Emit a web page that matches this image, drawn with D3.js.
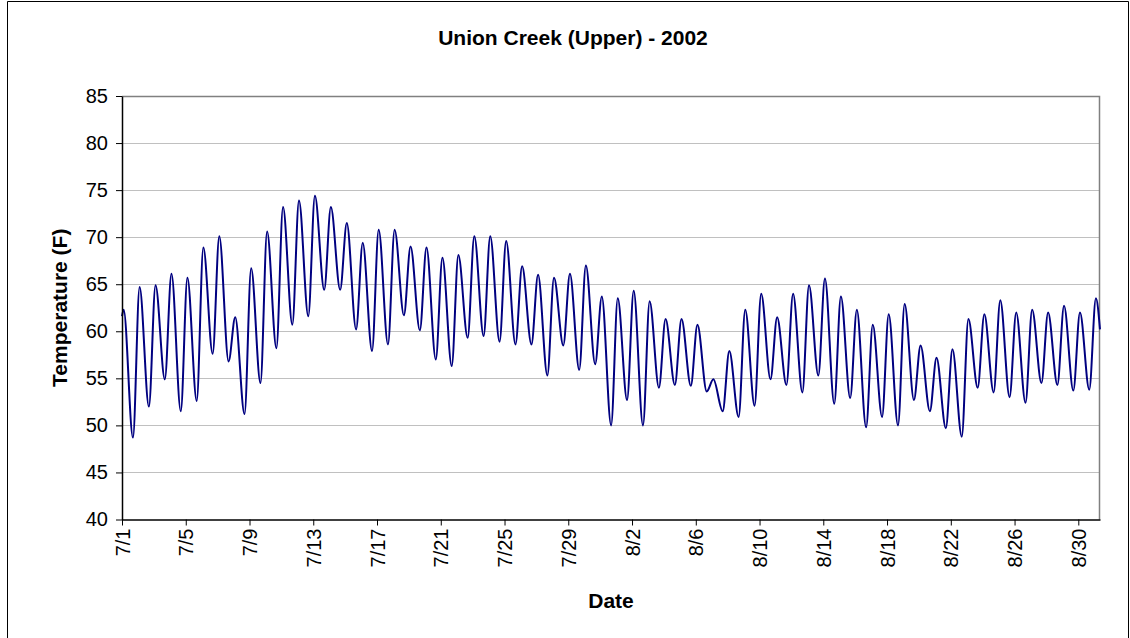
<!DOCTYPE html>
<html>
<head>
<meta charset="utf-8">
<script src="https://cdn.jsdelivr.net/npm/d3@7"></script>
<style>
  body { margin: 0; background: #fff; }
  svg { display: block; font-family: Arial, "Liberation Sans", sans-serif; }
  .grid line { stroke: #c0c0c0; stroke-width: 1px; }
  .axis path, .axis line { stroke: #000; }
  .axis text { fill: #000; }
</style>
</head>
<body>
<div id="chart"></div>
<script>
const tickLabels = ['7/1', '7/5', '7/9', '7/13', '7/17', '7/21', '7/25', '7/29',
                    '8/2', '8/6', '8/10', '8/14', '8/18', '8/22', '8/26', '8/30'];
const yTicks = [40, 45, 50, 55, 60, 65, 70, 75, 80, 85];

const firstReading = '7/1/2002 00:00';
const lastReading = '8/31/2002 08:40';
const startValue = 61.6;
const endValue = 60.2;
const highHour = 2.5;   // time of day of the daily peak on the chart
const lowHour = 16.5;   // time of day of the daily trough

// one entry per day, 7/1 .. 8/31
const dailyHigh = [62.3, 64.7, 64.9, 66.1, 65.7, 68.9, 70.1, 61.5, 66.7, 70.6,
                   73.2, 73.9, 74.4, 73.2, 71.5, 69.4, 70.8, 70.8, 69.0, 68.9,
                   67.8, 68.1, 70.1, 70.1, 69.6, 66.9, 66.0, 65.7, 66.1, 67.0,
                   63.7, 63.5, 64.3, 63.2, 61.3, 61.3, 60.7, 54.9, 57.9, 62.3,
                   64.0, 61.5, 64.0, 64.9, 65.6, 63.7, 62.3, 60.7, 61.8, 62.9,
                   58.5, 57.2, 58.1, 61.3, 61.8, 63.3, 62.0, 62.3, 62.0, 62.7,
                   62.0, 63.5];
// one entry per day, 7/1 .. 8/30
const dailyLow = [48.7, 52.0, 54.9, 51.5, 52.6, 57.6, 56.8, 51.2, 54.5, 58.2,
                  60.7, 61.6, 64.4, 64.4, 60.2, 57.9, 58.6, 61.7, 60.1, 57.0,
                  56.3, 59.3, 59.5, 58.9, 58.6, 58.6, 55.3, 58.5, 55.9, 56.5,
                  50.0, 52.7, 50.0, 54.0, 54.3, 54.2, 53.6, 51.5, 50.9, 52.1,
                  54.9, 54.3, 53.5, 55.3, 52.3, 52.9, 49.8, 50.9, 50.0, 52.7,
                  51.5, 49.7, 48.8, 54.0, 53.5, 53.0, 52.4, 54.5, 54.3, 53.7,
                  53.8];

const config = {
  width: 1130,
  height: 638,
  margin: {top: 96, right: 30, bottom: 118.5, left: 122}
};

const parseFull = d3.timeParse('%m/%d/%Y %H:%M');
const parseLabel = d3.timeParse('%m/%d/%Y');
const t0 = parseFull(firstReading);

// build the trace from the readings
const trace = [{date: t0, value: startValue}];
dailyHigh.forEach((v, i) => {
  const day = d3.timeDay.offset(t0, i);
  trace.push({date: d3.timeMinute.offset(day, highHour * 60), value: v});
  if (i < dailyLow.length) {
    trace.push({date: d3.timeMinute.offset(day, lowHour * 60), value: dailyLow[i]});
  }
});
trace.push({date: parseFull(lastReading), value: endValue});

const innerWidth = config.width - config.margin.left - config.margin.right;
const innerHeight = config.height - config.margin.top - config.margin.bottom;

const svg = d3.select('#chart').append('svg')
    .attr('width', config.width)
    .attr('height', config.height);

// outer chart frame (bottom edge lies below the picture)
svg.append('path')
    .attr('d', `M7.5,${config.height}V1.5H1128.5V${config.height}`)
    .attr('fill', 'none')
    .attr('stroke', '#000')
    .attr('stroke-width', 1);

const xScale = d3.scaleTime()
    .domain([t0, parseFull(lastReading)])
    .range([0, innerWidth]);

const yScale = d3.scaleLinear()
    .domain([40, 85])
    .range([innerHeight, 0]);

const g = svg.append('g')
    .attr('transform', `translate(${config.margin.left},${config.margin.top})`);

// horizontal gridlines
g.append('g')
    .attr('class', 'grid')
    .selectAll('line')
    .data(yTicks.slice(1))
    .join('line')
    .attr('x1', 0)
    .attr('x2', innerWidth)
    .attr('y1', d => Math.round(yScale(d)) + 0.5)
    .attr('y2', d => Math.round(yScale(d)) + 0.5);

// plot area border (top/right)
g.append('path')
    .attr('d', `M0,0.5H${innerWidth - 0.5}V${innerHeight}`)
    .attr('fill', 'none')
    .attr('stroke', '#808080')
    .attr('stroke-width', 1.5);

const line = d3.line()
    .x(d => xScale(d.date))
    .y(d => yScale(d.value))
    .curve(d3.curveMonotoneX);

g.append('path')
    .datum(trace)
    .attr('fill', 'none')
    .attr('stroke', '#000080')
    .attr('stroke-width', 2)
    .attr('stroke-linejoin', 'round')
    .attr('d', line);

const yAxis = d3.axisLeft(yScale)
    .tickValues(yTicks)
    .tickSize(6)
    .tickPadding(8)
    .tickSizeOuter(0);

g.append('g')
    .attr('class', 'axis')
    .call(yAxis)
    .call(sel => sel.selectAll('text').style('font-size', '20px'));

const xAxis = d3.axisBottom(xScale)
    .tickValues(tickLabels.map(s => parseLabel(s + '/2002')))
    .tickFormat(d3.timeFormat('%-m/%-d'))
    .tickSize(6)
    .tickSizeOuter(0);

g.append('g')
    .attr('class', 'axis')
    .attr('transform', `translate(0,${innerHeight})`)
    .call(xAxis)
    .call(sel => sel.selectAll('text')
        .style('font-size', '20px')
        .attr('text-anchor', 'end')
        .attr('transform', 'rotate(-90)')
        .attr('x', -9)
        .attr('y', 0)
        .attr('dy', '0.35em'));

g.selectAll('.axis .domain').attr('stroke-width', 1.5);

// titles
svg.append('text')
    .attr('x', 573)
    .attr('y', 45)
    .attr('text-anchor', 'middle')
    .style('font-size', '21px')
    .style('font-weight', 'bold')
    .text('Union Creek (Upper) - 2002');

svg.append('text')
    .attr('x', config.margin.left + innerWidth / 2)
    .attr('y', 608)
    .attr('text-anchor', 'middle')
    .style('font-size', '21px')
    .style('font-weight', 'bold')
    .text('Date');

svg.append('text')
    .attr('transform', `translate(67,${config.margin.top + innerHeight / 2}) rotate(-90)`)
    .attr('text-anchor', 'middle')
    .style('font-size', '21px')
    .style('font-weight', 'bold')
    .text('Temperature (F)');
</script>
</body>
</html>
